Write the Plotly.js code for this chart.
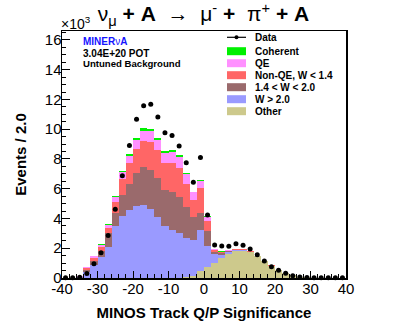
<!DOCTYPE html>
<html>
<head>
<meta charset="utf-8">
<script src="https://cdn.plot.ly/plotly-3.0.1.min.js"></script>
<style>
  html, body { margin: 0; padding: 0; background: #fff; }
  #plot { width: 407px; height: 328px; }
</style>
</head>
<body>
<div id="plot"></div>
<script>
// bin centers, bins of width 2 from -40 to 40
const binCenters = [-39, -37, -35, -33, -31, -29, -27, -25, -23, -21,
                    -19, -17, -15, -13, -11, -9, -7, -5, -3, -1,
                    1, 3, 5, 7, 9, 11, 13, 15, 17, 19,
                    21, 23, 25, 27, 29, 31, 33, 35, 37, 39];

// events / 2.0, in units of 10^3
const other = [0, 0, 0, 0, 0, 0, 0, 0, 0, 0,
               0, 0, 0, 0, 0, 0, 0.02, 0.05, 0.12, 0.49,
               0.72, 1.03, 1.32, 1.62, 1.8, 1.81, 1.72, 1.45, 1.12, 0.83,
               0.56, 0.35, 0.2, 0.1, 0.05, 0.03, 0.015, 0.01, 0.005, 0];
const wHigh = [0.01, 0.02, 0.06, 0.42, 0.85, 1.43, 2.06, 3.5, 4.2, 4.6,
               4.85, 4.9, 4.66, 4.12, 3.5, 3.2, 2.98, 2.65, 2.43, 2.71,
               1.43, 0.55, 0.25, 0.12, 0.07, 0.05, 0.03, 0.02, 0.01, 0.01,
               0, 0, 0, 0, 0, 0, 0, 0, 0, 0];
const wMid = [0, 0, 0.02, 0.1, 0.3, 0.41, 0.99, 0.9, 1.38, 1.73,
              2.19, 2.54, 2.62, 2.57, 2.4, 2.6, 2.47, 2.1, 1.57, 1.2,
              1.03, 0.15, 0.08, 0.05, 0.03, 0.03, 0.02, 0.01, 0.01, 0,
              0, 0, 0, 0, 0, 0, 0, 0, 0, 0];
const nonQE = [0, 0.01, 0.02, 0.15, 0.2, 0.26, 0.33, 0.73, 1.08, 1.38,
               1.61, 1.78, 1.89, 1.93, 1.85, 1.95, 1.93, 1.5, 1.12, 1.63,
               0.67, 0.12, 0.08, 0.05, 0.04, 0.04, 0.03, 0.02, 0.01, 0.01,
               0, 0, 0, 0, 0, 0, 0, 0, 0, 0];
const qe = [0, 0, 0.01, 0.05, 0.1, 0.15, 0.2, 0.32, 0.44, 0.51,
            0.65, 0.68, 0.68, 0.68, 0.67, 0.75, 0.75, 0.68, 0.51, 0.47,
            0.25, 0.1, 0.05, 0.03, 0.02, 0.02, 0.01, 0.01, 0, 0,
            0, 0, 0, 0, 0, 0, 0, 0, 0, 0];
const coherent = [0, 0, 0, 0.02, 0.03, 0.04, 0.05, 0.06, 0.11, 0.12,
                  0.11, 0.16, 0.14, 0.13, 0.12, 0.13, 0.12, 0.1, 0.05, 0.09,
                  0.09, 0.02, 0.01, 0, 0, 0, 0, 0, 0, 0,
                  0, 0, 0, 0, 0, 0, 0, 0, 0, 0];
const dataPts = [0.02, 0.02, 0.05, 0.3, 0.95, 1.7, 2.85, 4.62, 6.88, 8.9,
                 10.67, 11.58, 11.67, 10.82, 9.77, 9.57, 8.87, 7.75, 6.43, 8.09,
                 4.24, 2.22, 2.15, 2.13, 2.31, 2.2, 1.95, 1.57, 1.14, 0.76,
                 0.52, 0.32, 0.15, 0.07, 0.04, 0.02, 0.01, 0.01, 0.01, 0.01];

const xTicks = [-40, -30, -20, -10, 0, 10, 20, 30, 40];
const xTickText = ['-40', '-30', '-20', '-10', '0', '10', '20', '30', '40'];
const yTicks = [0, 2, 4, 6, 8, 10, 12, 14, 16];
const yTickText = ['0', '2', '4', '6', '8', '10', '12', '14', '16'];

// stacked bottom -> top
const stackNames = ['Other', 'W > 2.0', '1.4 < W < 2.0', 'Non-QE, W < 1.4', 'QE', 'Coherent'];
const stackVals = [other, wHigh, wMid, nonQE, qe, coherent];
const stackColors = ['#cdc98c', '#9a9aff', '#9a6a6c', '#ff6666', '#ff90ff', '#00f000'];

const FONT = 'Liberation Sans, Arial, Helvetica, sans-serif';

// pixel -> paper helpers (plot area 62..346 x 31..278)
function px(x) { return (x - 62) / 284; }
function py(y) { return (278 - y) / 247; }

let traces = [];
for (let i = 0; i < stackVals.length; i++) {
  traces.push({
    type: 'bar', x: binCenters, y: stackVals[i], width: 2, name: stackNames[i],
    marker: { color: stackColors[i], line: { width: 0 } },
    showlegend: false, hoverinfo: 'skip'
  });
}
traces.push({
  type: 'scatter', mode: 'markers', x: binCenters, y: dataPts, name: 'Data',
  marker: { color: 'black', size: 5 }, cliponaxis: false, showlegend: false
});

// hand-made legend in ROOT style
let legendOrder = ['Coherent', 'QE', 'Non-QE, W < 1.4', '1.4 < W < 2.0', 'W > 2.0', 'Other'];
let shapes = [], annotations = [];
let rowY = 37.3;
shapes.push({ type: 'line', xref: 'paper', yref: 'paper', x0: px(227), x1: px(246), y0: py(rowY), y1: py(rowY),
  line: { color: 'black', width: 1.2 } });
shapes.push({ type: 'circle', xref: 'paper', yref: 'paper', x0: px(234.5), x1: px(238.5), y0: py(rowY + 2), y1: py(rowY - 2),
  fillcolor: 'black', line: { width: 0 } });
annotations.push({ xref: 'paper', yref: 'paper', x: px(253), y: py(rowY), xanchor: 'left', yanchor: 'middle',
  text: '<b>Data</b>', showarrow: false, font: { family: FONT, size: 10, color: 'black' } });
legendOrder.forEach((nm, k) => {
  let yc = 51.2 + k * 12;
  let c = stackColors[stackNames.indexOf(nm)];
  shapes.push({ type: 'rect', xref: 'paper', yref: 'paper', x0: px(227), x1: px(246), y0: py(yc + 4), y1: py(yc - 4),
    fillcolor: c, line: { width: 0 } });
  annotations.push({ xref: 'paper', yref: 'paper', x: px(253), y: py(yc), xanchor: 'left', yanchor: 'middle',
    text: '<b>' + nm.replace(/</g, '&lt;') + '</b>', showarrow: false, font: { family: FONT, size: 10, color: 'black' } });
});

// info text, upper left
annotations.push({ xref: 'paper', yref: 'paper', x: px(81), y: py(42), xanchor: 'left', yanchor: 'middle',
  text: '<b>MINER</b>ν<b>A</b>', showarrow: false, font: { family: FONT, size: 10, color: '#1414ff' } });
annotations.push({ xref: 'paper', yref: 'paper', x: px(81), y: py(53.5), xanchor: 'left', yanchor: 'middle',
  text: '<b>3.04E+20 POT</b>', showarrow: false, font: { family: FONT, size: 10, color: 'black' } });
annotations.push({ xref: 'paper', yref: 'paper', x: px(81), y: py(63.8), xanchor: 'left', yanchor: 'middle',
  text: '<b>Untuned Background</b>', showarrow: false, font: { family: FONT, size: 9.6, color: 'black' } });
// axis multiplier
annotations.push({ xref: 'paper', yref: 'paper', x: px(59), y: py(23), xanchor: 'left', yanchor: 'middle',
  text: '×10<sup>3</sup>', showarrow: false, font: { family: FONT, size: 14, color: 'black' } });

let layout = {
  width: 407, height: 328,
  margin: { l: 62, r: 61, t: 31, b: 50 },
  paper_bgcolor: 'white', plot_bgcolor: 'white',
  barmode: 'stack', bargap: 0,
  font: { family: FONT, color: 'black' },
  title: {
    text: 'ν<sub>μ</sub> <b>+ A</b>&nbsp; →&nbsp; μ<sup>-</sup> <b>+</b>&nbsp; π<sup>+</sup> <b>+ A</b>',
    x: 0.5, xanchor: 'center', y: 1 - 14 / 328, yanchor: 'middle',
    font: { family: FONT, size: 21, color: 'black' }
  },
  xaxis: {
    range: [-40, 40], tickmode: 'array', tickvals: xTicks, ticktext: xTickText,
    ticks: 'inside', ticklen: 7, tickwidth: 1, tickcolor: 'black',
    minor: { tick0: -40, dtick: 2, ticks: 'inside', ticklen: 4, tickcolor: 'black', showgrid: false },
    showline: true, linecolor: 'black', linewidth: 1.5, mirror: true,
    showgrid: false, zeroline: false, ticklabelstandoff: -4,
    tickfont: { family: FONT, size: 15, color: 'black' },
    title: { text: '<b>MINOS Track Q/P Significance</b>', standoff: 12, font: { family: FONT, size: 15, color: 'black' } }
  },
  yaxis: {
    range: [0, 16.6], tickmode: 'array', tickvals: yTicks, ticktext: yTickText,
    ticks: 'inside', ticklen: 8, tickwidth: 1, tickcolor: 'black',
    minor: { tick0: 0, dtick: 0.5, ticks: 'inside', ticklen: 4, tickcolor: 'black', showgrid: false },
    showline: true, linecolor: 'black', linewidth: 1.5, mirror: true,
    showgrid: false, zeroline: false, ticklabelstandoff: -4,
    tickfont: { family: FONT, size: 15, color: 'black' },
    title: { text: '<b>Events / 2.0</b>', standoff: 14, font: { family: FONT, size: 15, color: 'black' } }
  },
  shapes: shapes,
  annotations: annotations
};

Plotly.newPlot('plot', traces, layout, { staticPlot: true });
</script>
</body>
</html>
